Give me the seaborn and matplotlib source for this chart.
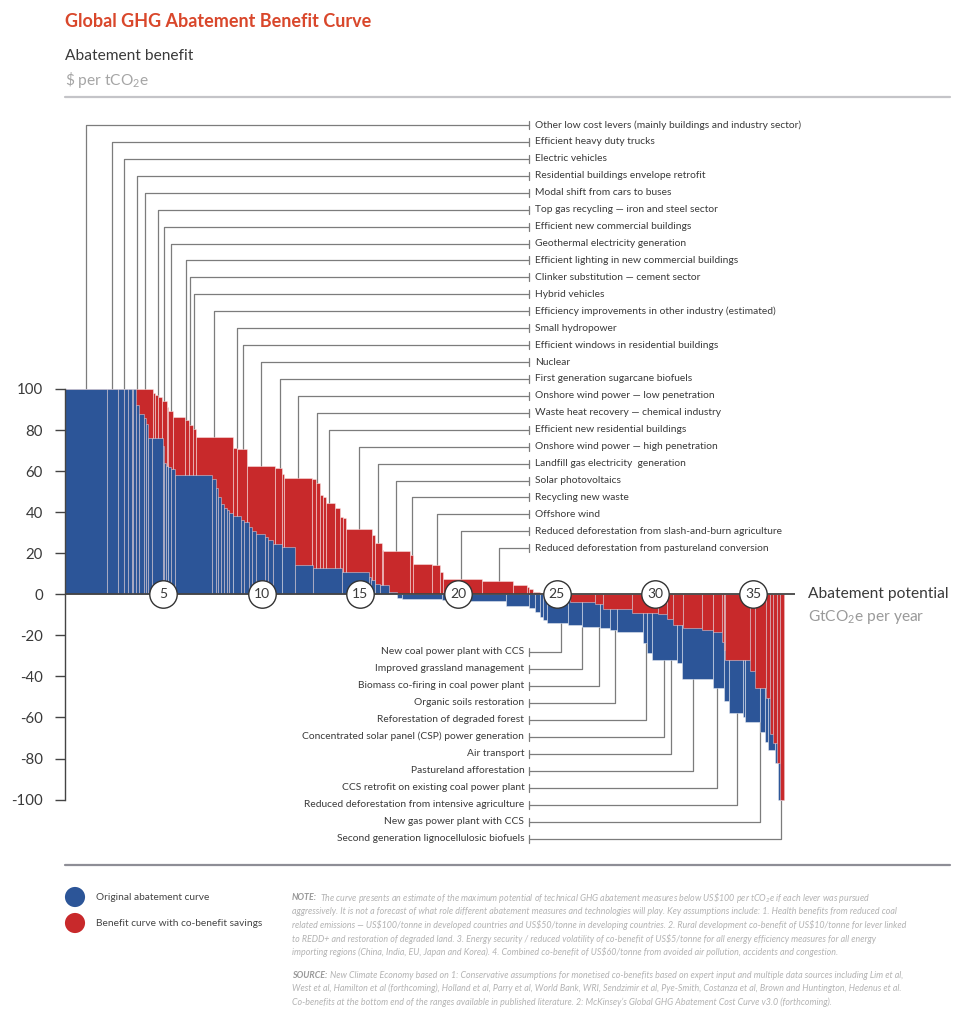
import numpy as np
import pandas as pd
import matplotlib
matplotlib.use("Agg")
import matplotlib.pyplot as plt
import seaborn as sns

# ---------------- data ----------------
# Original abatement curve: lever boundaries (GtCO2e) and abatement benefit ($/tCO2e)
blue_edges = [0, 2.12, 2.71, 3.0, 3.22, 3.39, 3.47, 3.61, 3.78, 4.02, 4.12, 4.24, 4.41,
              4.97, 5.05, 5.13, 5.25, 5.37, 5.59, 7.49, 7.68, 7.80, 7.91, 8.08, 8.22, 8.35,
              8.56, 8.93, 9.12, 9.37, 9.49, 9.71, 10.17, 10.34, 10.59, 11.02, 11.69, 12.62,
              14.07, 15.46, 15.56, 15.76, 16.01, 16.49, 16.86, 17.12, 19.15, 20.59, 22.42,
              23.6, 23.89, 24.15, 24.32, 24.49, 25.59, 26.27, 27.2, 27.71, 28.05, 29.4,
              29.57, 29.83, 31.1, 31.35, 32.96, 33.5, 33.77, 34.45, 34.58, 35.33, 35.59,
              35.76, 36.1, 36.24, 36.52]
blue_values = [100, 100, 100, 100, 100, 100, 100, 92, 88, 86, 83, 76, 76, 72, 64, 62.5, 62,
               61, 58, 56, 52, 47.5, 44, 42, 41, 39.7, 38.3, 36, 35, 33, 31, 29.2, 28, 26.5,
               24.4, 23.2, 14.1, 12.7, 11, 8.6, 7, 5, 4.5, 1.3, -2, -2.4, -2.9, -3.4, -5.9,
               -6.8, -8.5, -10.9, -12.5, -14.1, -15, -15.8, -16.6, -17.4, -18.6, -23.9, -28.6,
               -32.2, -33.5, -41.5, -45.8, -52, -58, -59.6, -62, -67, -71.8, -75.8, -82, -100]

# Benefit curve with co-benefit savings
red_edges = [0, 4.49, 4.58, 4.74, 4.95, 5.17, 5.25, 5.51, 6.10, 6.30, 6.49, 6.66, 8.52, 8.76,
             9.24, 10.68, 11.02, 11.13, 12.54, 12.76, 12.96, 13.13, 13.27, 13.73, 13.98,
             14.15, 14.27, 15.59, 15.76, 16.10, 16.18, 17.54, 17.71, 18.64, 19.06, 19.20,
             21.18, 22.79, 23.47, 23.6, 23.81, 24.15, 24.6, 25.67, 26.94, 27.37, 28.81,
             30.16, 30.59, 30.93, 31.43, 32.4, 32.96, 33.42, 33.5, 33.57, 34.81, 35.1, 35.62,
             35.85, 36.0, 36.2, 36.33, 36.55]
red_values = [100, 98, 97, 96, 94.3, 91.4, 89.3, 86.2, 85, 82.5, 80.4, 76.8, 71.4, 70.6,
              62.6, 61.4, 58.4, 56.8, 56, 54, 48.4, 47.4, 44.3, 41.9, 37.8, 37, 31.6, 28.9,
              25.1, 21.6, 21.1, 19.1, 14.6, 14.4, 11, 7.45, 6.5, 4.5, 3.7, 2.4, 1.1, 0.5,
              -1.5, -3.6, -4.9, -7.4, -8.9, -9.5, -12.2, -15, -16.4, -17.6, -18.5, -23, -27,
              -32, -37.3, -45.8, -50.7, -68, -72.6, -82.3, -100]

x_ticks = [5, 10, 15, 20, 25, 30, 35]
y_ticks = [-100, -80, -60, -40, -20, 0, 20, 40, 60, 80, 100]

top_labels = [
    "Other low cost levers (mainly buildings and industry sector)",
    "Efficient heavy duty trucks",
    "Electric vehicles",
    "Residential buildings envelope retrofit",
    "Modal shift from cars to buses",
    "Top gas recycling \u2014 iron and steel sector",
    "Efficient new commercial buildings",
    "Geothermal electricity generation",
    "Efficient lighting in new commercial buildings",
    "Clinker substitution \u2014 cement sector",
    "Hybrid vehicles",
    "Efficiency improvements in other industry (estimated)",
    "Small hydropower",
    "Efficient windows in residential buildings",
    "Nuclear",
    "First generation sugarcane biofuels",
    "Onshore wind power \u2014 low penetration",
    "Waste heat recovery \u2014 chemical industry",
    "Efficient new residential buildings",
    "Onshore wind power \u2014 high penetration",
    "Landfill gas electricity  generation",
    "Solar photovoltaics",
    "Recycling new waste",
    "Offshore wind",
    "Reduced deforestation from slash-and-burn agriculture",
    "Reduced deforestation from pastureland conversion",
]
top_lever_x = [1.05, 2.40, 3.01, 3.68, 4.08, 4.74, 5.05, 5.37, 6.17, 6.37, 6.57, 7.59, 8.74,
               9.06, 9.98, 10.94, 11.83, 12.80, 13.44, 14.95, 15.93, 16.85, 17.66, 18.90,
               20.15, 22.06]

bottom_labels = [
    "New coal power plant with CCS",
    "Improved grassland management",
    "Biomass co-firing in coal power plant",
    "Organic soils restoration",
    "Reforestation of degraded forest",
    "Concentrated solar panel (CSP) power generation",
    "Air transport",
    "Pastureland afforestation",
    "CCS retrofit on existing coal power plant",
    "Reduced deforestation from intensive agriculture",
    "New gas power plant with CCS",
    "Second generation lignocellulosic biofuels",
]
bottom_lever_x = [25.22, 26.27, 27.16, 27.96, 29.52, 30.47, 30.81, 31.91, 33.16, 34.18,
                  35.31, 36.42]

legend_labels = ["Original abatement curve", "Benefit curve with co-benefit savings"]

note_lines = [
    ("NOTE:", r"The curve presents an estimate of the maximum potential of technical GHG abatement measures below US\$100 per tCO$_2$e if each lever was pursued"),
    ("", "aggressively. It is not a forecast of what role different abatement measures and technologies will play. Key assumptions include: 1. Health benefits from reduced coal"),
    ("", "related emissions \u2014 US$100/tonne in developed countries and US$50/tonne in developing countries. 2. Rural development co-benefit of US$10/tonne for lever linked"),
    ("", "to REDD+ and restoration of degraded land. 3. Energy security / reduced volatility of co-benefit of US$5/tonne for all energy efficiency measures for all energy"),
    ("", "importing regions (China, India, EU, Japan and Korea). 4. Combined co-benefit of US$60/tonne from avoided air pollution, accidents and congestion."),
]
source_lines = [
    ("SOURCE:", "New Climate Economy based on 1: Conservative assumptions for monetised co-benefits based on expert input and multiple data sources including Lim et al,"),
    ("", "West et al, Hamilton et al (forthcoming), Holland et al, Parry et al, World Bank, WRI, Sendzimir et al, Pye-Smith, Costanza et al, Brown and Huntington, Hedenus et al."),
    ("", "Co-benefits at the bottom end of the ranges available in published literature. 2: McKinsey\u2019s Global GHG Abatement Cost Curve v3.0 (forthcoming)."),
]

# ---------------- style ----------------
sns.set_theme(style="white")
plt.rcParams['font.family'] = ['Lato', 'DejaVu Sans']
plt.rcParams['mathtext.fontset'] = 'custom'
plt.rcParams['mathtext.rm'] = 'Lato'
plt.rcParams['mathtext.it'] = 'Lato:italic'
plt.rcParams['mathtext.bf'] = 'Lato:bold'
plt.rcParams['mathtext.default'] = 'regular'

BLUE = "#2c5598"
RED = "#c8292b"
DARK = "#3a3a3a"
GREY = "#9a9a9a"
LEAD = "#7c7c7c"

W, H = 972, 1024
X0, Y0 = 65.0, 594.3      # pixel of data origin
SX, SY = 19.67, 2.053      # pixels per data unit


def px_x(p):
    return (p - X0) / SX


def px_y(p):
    return (Y0 - p) / SY


fig = plt.figure(figsize=(W / 100, H / 100), dpi=100)
ax = fig.add_axes([0, 0, 1, 1])

EDGE = (1, 1, 1, 0.4)


def draw_steps(edges, values, color, z):
    edges = [float(e) for e in edges]
    values = [float(v) for v in values]
    df = pd.DataFrame({"x": [(a + b) / 2 for a, b in zip(edges[:-1], edges[1:])],
                       "w": values})
    sns.histplot(data=df, x="x", weights="w", bins=edges, stat="count", element="bars",
                 color=color, alpha=1, edgecolor=EDGE, linewidth=0.75, ax=ax, zorder=z)


def step_at(edges, values, x):
    i = int(np.searchsorted(edges, x, side="right")) - 1
    i = min(max(i, 0), len(values) - 1)
    return values[i]


# red benefit curve underneath, blue original on top, then red negative part on top
draw_steps(red_edges, red_values, RED, 2)
draw_steps(blue_edges, blue_values, BLUE, 3)
k = next(i for i, v in enumerate(red_values) if v < 0)
draw_steps(red_edges[k:], red_values[k:], RED, 4)

ax.set_xlim(px_x(0), px_x(W))
ax.set_ylim(px_y(H), px_y(0))
ax.set_xlabel("")
ax.set_ylabel("")
ax.set_xticks([])
ax.set_yticks(y_ticks)
ax.set_yticklabels([str(v) for v in y_ticks])
for s in ["top", "right", "bottom"]:
    ax.spines[s].set_visible(False)
ax.spines["left"].set_position(("data", 0))
ax.spines["left"].set_bounds(-100, 100)
ax.spines["left"].set_color("#444444")
ax.spines["left"].set_linewidth(1.0)
ax.spines["left"].set_zorder(5)
ax.tick_params(axis="y", left=True, direction="out", length=7, width=1, color="#444444",
               labelsize=10.8, labelcolor=DARK, pad=9)
ax.patch.set_alpha(0)

# zero line (x axis)
ax.plot([0, px_x(795)], [0, 0], color="#444444", lw=1.3, zorder=6, solid_capstyle="butt")
ax.scatter(x_ticks, [0] * len(x_ticks), s=390, facecolor="white", edgecolor="#333333",
           linewidth=1.0, zorder=7, clip_on=False)
for xv in x_ticks:
    ax.text(xv, 0, str(xv), ha="center", va="center", fontsize=10, color=DARK, zorder=8)

ax.text(px_x(808), px_y(594), "Abatement potential", fontsize=11.2, color=DARK,
        ha="left", va="center")
ax.text(px_x(808), px_y(617), r"GtCO$_2$e per year", fontsize=11.2, color=GREY,
        ha="left", va="center")

# header
ax.text(px_x(65), px_y(22), "Global GHG Abatement Benefit Curve", fontsize=13,
        fontweight="bold", color="#d9472b", ha="left", va="center")
ax.text(px_x(65), px_y(56), "Abatement benefit", fontsize=11.2, color=DARK, ha="left",
        va="center")
ax.text(px_x(65), px_y(80), r"\$ per tCO$_2$e", fontsize=11.2, color="#a5a5a5", ha="left",
        va="center")
ax.plot([px_x(65), px_x(950)], [px_y(97), px_y(97)], color="#c4c4c8", lw=1.6)
ax.plot([px_x(65), px_x(950)], [px_y(865), px_y(865)], color="#8e8e96", lw=1.6)

# leader lines & labels
x_tick_line = px_x(529.3)
tick_half = 4 / SY
for i, (lab, xv) in enumerate(zip(top_labels, top_lever_x)):
    yl = px_y(125 + 16.93 * i)
    ytop = max(step_at(red_edges, red_values, xv), step_at(blue_edges, blue_values, xv), 0)
    ax.plot([xv, xv, x_tick_line], [ytop, yl, yl], color=LEAD, lw=0.9, zorder=1)
    ax.plot([x_tick_line, x_tick_line], [yl - tick_half, yl + tick_half], color=LEAD, lw=0.9)
    ax.text(px_x(535), yl, lab, fontsize=7.35, color=DARK, ha="left", va="center")

for i, (lab, xv) in enumerate(zip(bottom_labels, bottom_lever_x)):
    yl = px_y(651.7 + 17.0 * i)
    ybot = min(step_at(red_edges, red_values, xv), step_at(blue_edges, blue_values, xv), 0)
    ax.plot([xv, xv, x_tick_line], [ybot, yl, yl], color=LEAD, lw=0.9, zorder=1)
    ax.plot([x_tick_line, x_tick_line], [yl - tick_half, yl + tick_half], color=LEAD, lw=0.9)
    ax.text(px_x(524.3), yl, lab, fontsize=7.35, color=DARK, ha="right", va="center")

# legend
for j, (lab, col) in enumerate(zip(legend_labels, [BLUE, RED])):
    yl = px_y(897 + 26 * j)
    ax.scatter([px_x(75)], [yl], s=210, color=col, edgecolor="none", clip_on=False)
    ax.text(px_x(96), yl, lab, fontsize=7.3, color="#444444", ha="left", va="center")

# notes
fig.canvas.draw()
renderer = fig.canvas.get_renderer()
NOTE_C = "#b3b3b3"


def note_block(lines, y_start):
    for i, (bold, rest) in enumerate(lines):
        yl = px_y(y_start + 13.5 * i)
        x_text = px_x(292)
        if bold:
            t = ax.text(x_text, yl, bold, fontsize=6.4, style="italic", fontweight="bold",
                        color="#999999", ha="left", va="center")
            bb = t.get_window_extent(renderer=renderer)
            x_text = ax.transData.inverted().transform((bb.x1 + 3, 0))[0]
        is_math = "$_2$" in rest
        ax.text(x_text, yl, rest, fontsize=6.4, style="italic", color=NOTE_C, ha="left",
                va="center", parse_math=is_math)


note_block(note_lines, 898)
note_block(source_lines, 975)

fig.savefig("out.png", dpi=100)
